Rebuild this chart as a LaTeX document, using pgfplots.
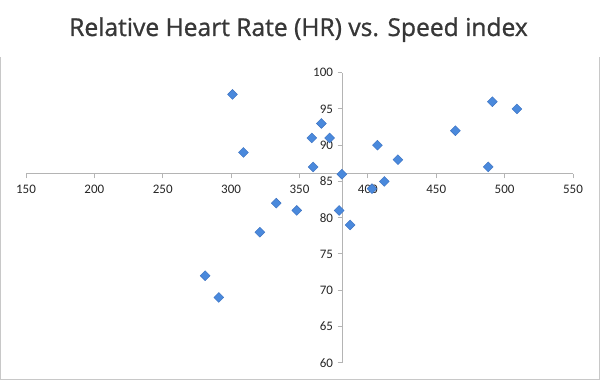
\documentclass[border=0pt]{standalone}
\usepackage{pgfplots}
\pgfplotsset{compat=1.18}
\usepackage{fontspec}
\setmainfont{Carlito}
\newfontfamily\opensans{Open Sans}[FakeBold=1.0]
\definecolor{mk}{RGB}{74,137,220}
\definecolor{mkedge}{RGB}{58,112,192}
\definecolor{axgray}{RGB}{180,180,180}
\definecolor{framegray}{RGB}{200,200,200}
\definecolor{txt}{RGB}{55,55,55}
\begin{document}
\begin{tikzpicture}[x=1pt,y=1pt]
\path[use as bounding box] (0,0) rectangle (600,380);
\draw[framegray, line width=1pt] (0.5,323) -- (0.5,0.5) -- (599.5,0.5) -- (599.5,323);
\node[font=\opensans\fontsize{24.6}{28}\selectfont, text=txt, anchor=base, inner sep=0pt] at (298.5,344) {Relative Heart Rate (HR) vs. Speed index};
\begin{axis}[at={(26pt,17.3pt)}, anchor=south west, scale only axis,
  width=547pt, height=290pt,
  axis lines=middle, axis line style={-, axgray, line width=0.9pt},
  xmin=-231.09, xmax=168.91, ymin=-26.05, ymax=13.95,
  x filter/.expression={x-381.09}, y filter/.expression={y-86.05},
  xtick={-231.09,-181.09,-131.09,-81.09,-31.09,18.91,68.91,118.91,168.91},
  xticklabels={150,200,250,300,350,400,450,500,550},
  ytick={-26.05,-21.05,-16.05,-11.05,-6.05,-1.05,3.95,8.95,13.95},
  yticklabels={60,65,70,75,80,85,90,95,100},
  tick align=outside, major tick length=4.5pt,
  tick style={axgray, line width=0.9pt},
  ticklabel style={font=\fontsize{13}{13}\selectfont, text=black!85},
  xticklabel style={yshift=-3pt},
  yticklabel style={xshift=-1pt},
  clip=false]
\addplot[only marks, mark=square*, mark size=3.5pt,
  mark options={rotate=45, fill=mk, draw=mkedge, line width=0.4pt}]
  coordinates {
  (301,97) (309,89) (366,93) (359,91) (372,91) (360,87) (381,86)
  (407,90) (422,88) (403,84) (412,85) (333,82) (348,81) (379,81)
  (321,78) (281,72) (291,69) (387,79) (491,96) (509,95) (464,92) (488,87)
  };
\end{axis}
\end{tikzpicture}
\end{document}
